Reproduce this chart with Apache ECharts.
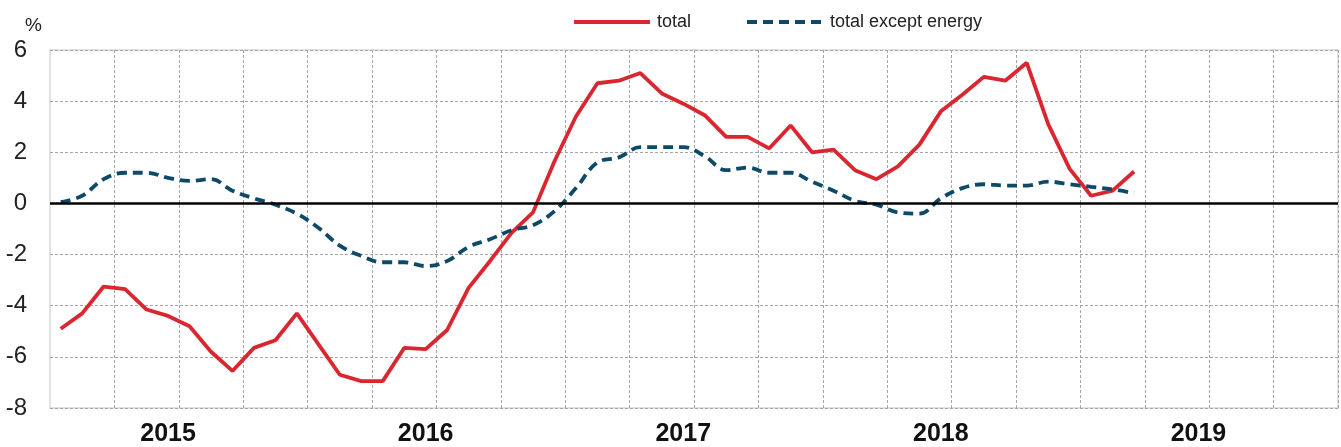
<!DOCTYPE html>
<html>
<head>
<meta charset="utf-8">
<script src="https://cdn.jsdelivr.net/npm/echarts@6/dist/echarts.min.js"></script>
<style>
  html, body { margin: 0; padding: 0; background: #fff; }
  #chart { width: 1341px; height: 447px; }
</style>
</head>
<body>
<div id="chart"></div>
<script>
// 数据
var years = ['2015', '2016', '2017', '2018', '2019'];
var months = ['01', '02', '03', '04', '05', '06', '07', '08', '09', '10', '11', '12'];

// total, monthly from 2015-01
var total = [
  -4.9, -4.3, -3.25, -3.35, -4.15, -4.4, -4.8, -5.8, -6.55, -5.65, -5.35, -4.3,
  -5.5, -6.7, -6.95, -6.95, -5.65, -5.7, -4.95, -3.3, -2.25, -1.15, -0.35, 1.65,
  3.4, 4.7, 4.8, 5.1, 4.3, 3.9, 3.45, 2.6, 2.6, 2.15, 3.05, 2.0,
  2.1, 1.3, 0.95, 1.45, 2.3, 3.6, 4.25, 4.95, 4.8, 5.5, 3.1, 1.35,
  0.3, 0.5, 1.25
];
// total except energy
var exEnergy = [
  0.05, 0.3, 0.95, 1.2, 1.2, 1.0, 0.88, 0.95, 0.5, 0.2, -0.05, -0.4,
  -0.95, -1.65, -2.05, -2.3, -2.3, -2.45, -2.25, -1.7, -1.4, -1.05, -0.85, -0.3,
  0.6, 1.6, 1.8, 2.2, 2.2, 2.2, 1.85, 1.3, 1.4, 1.2, 1.2, 0.85,
  0.5, 0.1, -0.05, -0.35, -0.4, 0.2, 0.6, 0.75, 0.7, 0.7, 0.85, 0.75,
  0.65, 0.55, 0.4
];

var categories = [];
years.forEach(function (y) {
  months.forEach(function (m) { categories.push(y + '-' + m); });
});

var font = "'Liberation Sans', Arial, sans-serif";

var myChart = echarts.init(document.getElementById('chart'));

var option = {
  animation: false,
  backgroundColor: '#fff',
  title: {
    text: '%',
    left: 20,
    top: 11,
    textStyle: { fontFamily: font, fontSize: 19, fontWeight: 'normal', color: '#222' }
  },
  legend: {
    left: 572,
    top: 13,
    padding: 0,
    itemWidth: 76,
    itemHeight: 14,
    itemGap: 54,
    itemStyle: { opacity: 0 },
    lineStyle: { width: 4 },
    textStyle: { fontFamily: font, fontSize: 18, color: '#222', padding: [0, 0, 0, 2] },
    data: ['total', 'total except energy']
  },
  grid: {
    left: 50,
    right: 3,
    top: 50,
    bottom: 39,
    show: true,
    borderColor: '#d9d9d9',
    borderWidth: 1.5
  },
  xAxis: {
    type: 'category',
    data: categories,
    boundaryGap: true,
    axisLine: { show: false },
    axisTick: { show: false },
    splitLine: {
      show: true,
      interval: function (idx) { return idx % 3 === 0 && idx > 0; },
      lineStyle: { color: '#a6a6a6', type: [3, 2], width: 1 }
    },
    axisLabel: {
      interval: function (idx) { return idx % 12 === 5; },
      formatter: function (v) { return v.slice(0, 4); },
      fontFamily: font,
      fontWeight: 'bold',
      fontSize: 25,
      color: '#111',
      margin: 14
    }
  },
  yAxis: {
    type: 'value',
    min: -8,
    max: 6,
    interval: 2,
    axisLine: { show: false },
    axisTick: { show: false },
    splitLine: { lineStyle: { color: '#a6a6a6', type: [3, 2], width: 1 } },
    axisLabel: {
      fontFamily: font,
      fontSize: 24,
      color: '#222',
      margin: 23
    }
  },
  series: [
    {
      name: 'total',
      type: 'line',
      data: total,
      symbol: 'none',
      itemStyle: { color: '#d9262f' },
      lineStyle: { color: '#d9262f', width: 3.8 },
      z: 3,
      markLine: {
        silent: true,
        symbol: 'none',
        label: { show: false },
        lineStyle: { color: '#000', type: 'solid', width: 2.5 },
        data: [{ yAxis: 0 }]
      }
    },
    {
      name: 'total except energy',
      type: 'line',
      data: exEnergy,
      symbol: 'none',
      smooth: 0.4,
      itemStyle: { color: '#0d4a6a' },
      lineStyle: { color: '#0d4a6a', width: 3.8, type: [10, 6] },
      z: 4
    }
  ]
};

myChart.setOption(option);
</script>
</body>
</html>
